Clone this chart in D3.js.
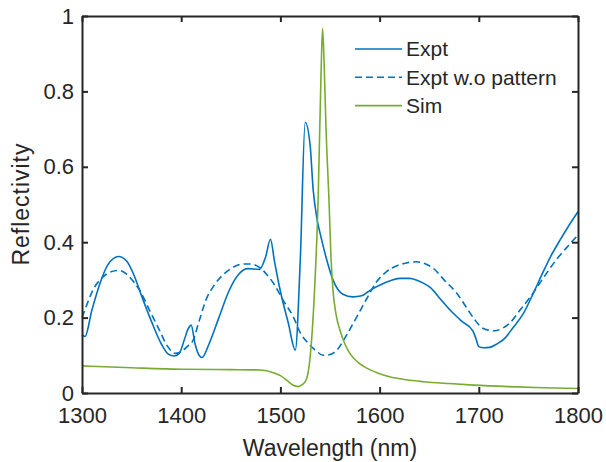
<!DOCTYPE html>
<html>
<head>
<meta charset="utf-8">
<script src="https://cdn.jsdelivr.net/npm/d3@7"></script>
<style>
  body { margin: 0; background: #fff; }
  text { font-family: "Liberation Sans", Arial, sans-serif; fill: #262626; }
</style>
</head>
<body>
<svg width="606" height="462"></svg>
<script>
// reflectivity spectra
var xTicks = [1300, 1400, 1500, 1600, 1700, 1800];
var yTicks = [0, 0.2, 0.4, 0.6, 0.8, 1];
var yTickLabels = ['0', '0.2', '0.4', '0.6', '0.8', '1'];

var exptWl = [1300, 1303, 1310, 1318, 1326, 1337, 1345, 1352, 1360, 1370, 1380, 1387, 1393, 1398, 1403, 1407, 1410, 1414, 1418, 1421,
  1428, 1438, 1448, 1458, 1467, 1479, 1485, 1490, 1494, 1500, 1508, 1515, 1520, 1525, 1530, 1533, 1537, 1540, 1546, 1553,
  1563, 1573, 1582, 1588, 1592, 1600, 1610, 1620, 1630, 1637, 1645, 1651, 1661, 1671, 1683, 1694, 1697, 1700, 1705, 1711,
  1718, 1725, 1735, 1745, 1755, 1765, 1772, 1782, 1791, 1800];
var exptR = [0.155, 0.15, 0.22, 0.29, 0.34, 0.362, 0.35, 0.315, 0.258, 0.19, 0.13, 0.103, 0.098, 0.105, 0.14, 0.17, 0.18, 0.13, 0.1, 0.094,
  0.13, 0.2, 0.27, 0.315, 0.33, 0.328, 0.36, 0.408, 0.35, 0.27, 0.185, 0.114, 0.35, 0.718, 0.656, 0.54, 0.46, 0.424, 0.36, 0.30,
  0.262, 0.255, 0.258, 0.268, 0.275, 0.286, 0.297, 0.304, 0.304, 0.30, 0.29, 0.28, 0.25, 0.22, 0.19, 0.165, 0.145, 0.123, 0.12, 0.121,
  0.13, 0.142, 0.175, 0.211, 0.265, 0.322, 0.36, 0.406, 0.445, 0.481];

var noPatWl = [1300, 1305, 1311, 1320, 1330, 1337, 1345, 1352, 1358, 1368, 1378, 1386, 1394, 1400, 1406, 1412, 1418, 1425, 1433, 1442,
  1452, 1462, 1470, 1479, 1486, 1493, 1503, 1513, 1520, 1528, 1536, 1543, 1550, 1557, 1567, 1577, 1587, 1597, 1607, 1617,
  1627, 1637, 1646, 1654, 1665, 1678, 1688, 1696, 1704, 1716, 1724, 1731, 1741, 1752, 1765, 1778, 1790, 1800];
var noPatR = [0.2, 0.235, 0.273, 0.305, 0.322, 0.325, 0.315, 0.295, 0.273, 0.22, 0.167, 0.125, 0.105, 0.11, 0.123, 0.14, 0.19, 0.247, 0.285, 0.313,
  0.333, 0.342, 0.342, 0.333, 0.315, 0.291, 0.245, 0.202, 0.16, 0.132, 0.112, 0.1, 0.102, 0.114, 0.155, 0.202, 0.25, 0.295, 0.322, 0.337,
  0.345, 0.348, 0.343, 0.331, 0.3, 0.264, 0.225, 0.194, 0.172, 0.165, 0.172, 0.185, 0.218, 0.255, 0.305, 0.353, 0.39, 0.419];

var simWl = [1300, 1350, 1400, 1450, 1480, 1493, 1500, 1506, 1512, 1518, 1522, 1526, 1530, 1534, 1538, 1541, 1542.5, 1544, 1546, 1549,
  1551, 1553, 1556, 1560, 1565, 1570, 1578, 1587, 1598, 1610, 1627, 1644, 1670, 1695, 1730, 1765, 1800];
var simR = [0.072, 0.067, 0.063, 0.062, 0.061, 0.054, 0.046, 0.035, 0.022, 0.017, 0.022, 0.035, 0.096, 0.25, 0.51, 0.85, 0.967, 0.88, 0.7, 0.51,
  0.36, 0.273, 0.21, 0.167, 0.13, 0.105, 0.082, 0.066, 0.053, 0.043, 0.035, 0.03, 0.025, 0.021, 0.017, 0.014, 0.012];

var seriesNames = ['Expt', 'Expt w.o pattern', 'Sim'];
var seriesColors = ['#0072BD', '#0072BD', '#77AC30'];
var seriesDash = [null, '7,4', null];

var svg = d3.select('svg');
var plotLeft = 82, plotRight = 578, plotTop = 16, plotBottom = 393;

var x = d3.scaleLinear().domain([1300, 1800]).range([plotLeft, plotRight]);
var y = d3.scaleLinear().domain([0, 1]).range([plotBottom, plotTop]);

var zip = function(wl, r){
  return wl.map(function(w, i){ return [w, r[i]]; });
};
var series = [zip(exptWl, exptR), zip(noPatWl, noPatR), zip(simWl, simR)];

var line = d3.line()
  .x(function(d){ return x(d[0]); })
  .y(function(d){ return y(d[1]); })
  .curve(d3.curveMonotoneX);

// curves
svg.selectAll('path.curve')
  .data(series)
  .enter()
  .append('path')
    .attr('class', 'curve')
    .attr('d', line)
    .attr('fill', 'none')
    .attr('stroke', function(d, i){ return seriesColors[i]; })
    .attr('stroke-width', 1.6)
    .attr('stroke-dasharray', function(d, i){ return seriesDash[i]; });

// axes, ticks inward on all four sides
var styleAxis = function(g){
  g.selectAll('path.domain').attr('stroke', '#262626').attr('stroke-width', 2);
  g.selectAll('.tick line').attr('stroke', '#262626').attr('stroke-width', 2);
  g.selectAll('text').attr('fill', '#262626').style('font-size', '22px')
    .style('font-family', '"Liberation Sans", Arial, sans-serif');
};

svg.append('g')
  .attr('transform', 'translate(0,' + plotBottom + ')')
  .call(d3.axisBottom(x).tickValues(xTicks).tickFormat(d3.format('d')).tickSizeInner(-6).tickSizeOuter(0).tickPadding(14))
  .call(styleAxis);

svg.append('g')
  .attr('transform', 'translate(0,' + plotTop + ')')
  .call(d3.axisTop(x).tickValues(xTicks).tickFormat('').tickSizeInner(-6).tickSizeOuter(0))
  .call(styleAxis);

svg.append('g')
  .attr('transform', 'translate(' + plotLeft + ',0)')
  .call(d3.axisLeft(y).tickValues(yTicks).tickFormat(function(d, i){ return yTickLabels[i]; })
    .tickSizeInner(-6).tickSizeOuter(0).tickPadding(8))
  .call(styleAxis);

svg.append('g')
  .attr('transform', 'translate(' + plotRight + ',0)')
  .call(d3.axisRight(y).tickValues(yTicks).tickFormat('').tickSizeInner(-6).tickSizeOuter(0))
  .call(styleAxis);

// axis titles
svg.append('text')
  .attr('x', (plotLeft + plotRight) / 2)
  .attr('y', 456)
  .attr('text-anchor', 'middle')
  .style('font-size', '23px')
  .text('Wavelength (nm)');

svg.append('text')
  .attr('transform', 'translate(29,' + ((plotTop + plotBottom) / 2) + ') rotate(-90)')
  .attr('text-anchor', 'middle')
  .style('font-size', '23px')
  .attr('textLength', 122)
  .text('Reflectivity');

// legend
var legend = svg.append('g').attr('transform', 'translate(355,49)');
var items = legend.selectAll('g')
  .data(seriesNames)
  .enter()
  .append('g')
    .attr('transform', function(d, i){ return 'translate(0,' + (i * 28.3) + ')'; });

items.append('line')
  .attr('x1', 0).attr('x2', 47)
  .attr('stroke', function(d, i){ return seriesColors[i]; })
  .attr('stroke-width', 1.6)
  .attr('stroke-dasharray', function(d, i){ return seriesDash[i]; });

items.append('text')
  .attr('x', 51)
  .attr('dy', '0.35em')
  .style('font-size', '21px')
  .text(function(d){ return d; });
</script>
</body>
</html>
